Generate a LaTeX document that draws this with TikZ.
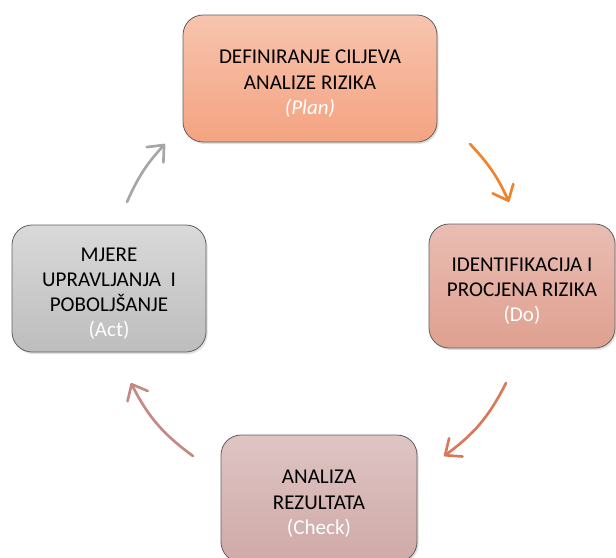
\documentclass[tikz,border=0pt]{standalone}
\usepackage{fontspec}
\setmainfont{Carlito}
\usepackage{tikz}
\usetikzlibrary{arrows.meta}
\usetikzlibrary{shadows}
\definecolor{mborder}{RGB}{95, 95, 95}
\definecolor{mplantop}{RGB}{247, 196, 174}
\definecolor{mplanbot}{RGB}{244, 163, 129}
\definecolor{mdotop}{RGB}{233, 189, 179}
\definecolor{mdobot}{RGB}{223, 160, 143}
\definecolor{mchecktop}{RGB}{222, 197, 196}
\definecolor{mcheckbot}{RGB}{207, 169, 167}
\definecolor{macttop}{RGB}{217, 217, 217}
\definecolor{mactbot}{RGB}{189, 189, 189}
\definecolor{morange}{RGB}{240, 131, 46}
\definecolor{mrust}{RGB}{217, 121, 90}
\definecolor{mrose}{RGB}{196, 138, 130}
\definecolor{mgrey}{RGB}{166, 166, 166}
\newcommand{\stagestrut}{\rule{0pt}{18pt}}
\tikzset{stage/.style = {draw = mborder, line width = 0.6pt, rounded corners = 15pt,
                         align = center, font = \fontsize{15.8}{18.8}\selectfont,
                         drop shadow = {opacity = 0.25, shadow xshift = 1.2pt,
                                        shadow yshift = -1.5pt}}}
\tikzset{flow/.style = {line width = 2pt, line cap = round,
                        -{Straight Barb[length = 10pt, width = 17pt, round]}}}

\begin{document}
\begin{tikzpicture}[x = 0.75pt, y = -0.75pt]
      \useasboundingbox (0, 0) rectangle (616, 557);

      \node [stage, top color = mplantop, bottom color = mplanbot,
             minimum width = 190.5pt, minimum height = 95.25pt] (plan) at (310, 78.5)
            {\stagestrut DEFINIRANJE CILJEVA\\ANALIZE RIZIKA\\{\color{white}\itshape (Plan)}};
      \node [stage, top color = mdotop, bottom color = mdobot,
             minimum width = 139.5pt, minimum height = 93pt] (do) at (522, 286)
            {\stagestrut IDENTIFIKACIJA I\\PROCJENA RIZIKA\\{\color{white}(Do)}};
      \node [stage, top color = mchecktop, bottom color = mcheckbot,
             minimum width = 147pt, minimum height = 95.25pt] (check) at (319, 498.5)
            {\stagestrut ANALIZA\\REZULTATA\\{\color{white}(Check)}};
      \node [stage, top color = macttop, bottom color = mactbot,
             minimum width = 145.5pt, minimum height = 95.25pt] (act) at (109, 288.5)
            {\stagestrut MJERE\\UPRAVLJANJA~ I\\POBOLJŠANJE\\{\color{white}(Act)}};

      \coordinate (p1) at (470, 144);
      \coordinate (p2) at (509, 202);
      \coordinate (d1) at (506, 383);
      \coordinate (d2) at (444, 456);
      \coordinate (c1) at (193, 456);
      \coordinate (c2) at (131, 383);
      \coordinate (a1) at (127, 202);
      \coordinate (a2) at (165, 144);

      \draw [flow, morange] (p1) to [bend left = 9.5] (p2);
      \draw [flow, mrust] (d1) to [bend left = 13.5] (d2);
      \draw [flow, mrose] (c1) to [bend left = 13.5] (c2);
      \draw [flow, mgrey] (a1) to [bend left = 9.5] (a2);
    \end{tikzpicture}
\end{document}
